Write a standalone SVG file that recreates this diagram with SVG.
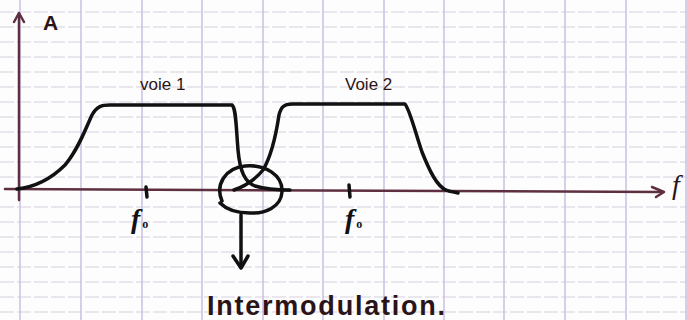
<svg xmlns="http://www.w3.org/2000/svg" width="687" height="320" viewBox="0 0 687 320">
  <defs>
    <style>
      .vgrid { stroke: #c8bfe2; stroke-width: 1.5; }
      .hgrid { stroke: #d6d0e0; stroke-width: 1.2; stroke-dasharray: 14 3; }
      .axis { stroke: #5e2f40; stroke-width: 2.5; fill: none; stroke-linecap: round; stroke-linejoin: round; }
      .ink { stroke: #111; stroke-width: 3.5; fill: none; stroke-linecap: round; stroke-linejoin: round; }
      .lbl { font-family: "Liberation Sans", Arial, sans-serif; fill: #2a1418; }
      .f0 { font-family: "Liberation Serif", "Times New Roman", serif; font-style: italic; font-weight: bold; fill: #111; }
    </style>
  </defs>
  <rect width="687" height="320" fill="#fdfdfd"/>
  <g id="grid">
    <g class="hgrid">
      <line x1="0" y1="12" x2="687" y2="12"/><line x1="0" y1="27" x2="687" y2="27"/>
      <line x1="0" y1="42" x2="687" y2="42"/><line x1="0" y1="57" x2="687" y2="57"/>
      <line x1="0" y1="72" x2="687" y2="72"/><line x1="0" y1="87" x2="687" y2="87"/>
      <line x1="0" y1="102" x2="687" y2="102"/><line x1="0" y1="117" x2="687" y2="117"/>
      <line x1="0" y1="132" x2="687" y2="132"/><line x1="0" y1="147" x2="687" y2="147"/>
      <line x1="0" y1="162" x2="687" y2="162"/><line x1="0" y1="177" x2="687" y2="177"/>
      <line x1="0" y1="207" x2="687" y2="207"/><line x1="0" y1="222" x2="687" y2="222"/>
      <line x1="0" y1="237" x2="687" y2="237"/><line x1="0" y1="252" x2="687" y2="252"/>
      <line x1="0" y1="267" x2="687" y2="267"/><line x1="0" y1="282" x2="687" y2="282"/>
      <line x1="0" y1="297" x2="687" y2="297"/><line x1="0" y1="312" x2="687" y2="312"/>
    </g>
    <g class="vgrid">
      <line x1="20" y1="0" x2="20" y2="320"/><line x1="81" y1="0" x2="81" y2="320"/>
      <line x1="142" y1="0" x2="142" y2="320"/><line x1="202" y1="0" x2="202" y2="320"/>
      <line x1="263" y1="0" x2="263" y2="320"/><line x1="323" y1="0" x2="323" y2="320"/>
      <line x1="384" y1="0" x2="384" y2="320"/><line x1="444" y1="0" x2="444" y2="320"/>
      <line x1="504" y1="0" x2="504" y2="320"/><line x1="565" y1="0" x2="565" y2="320"/>
      <line x1="626" y1="0" x2="626" y2="320"/><line x1="686" y1="0" x2="686" y2="320"/>
    </g>
  </g>
  <g id="axes">
    <path class="axis" d="M5,189 L661,192"/>
    <path class="axis" d="M652,187 L664,192 L656,197"/>
    <path class="axis" d="M19,200 L19,14"/>
    <path class="axis" d="M14,22 L19,13 L24,22"/>
    <text class="lbl" x="43" y="30" font-size="21" font-weight="bold">A</text>
    <text x="672" y="194" font-family="Liberation Serif, serif" font-style="italic" font-size="28" fill="#2a1418">f</text>
  </g>
  <g id="voie1">
    <path class="ink" d="M17,189 C35,187 50,180 65,165 C78,150 85,130 92,115 C97,106 102,105 110,105 L232,105 C236,108 236,125 238,150 C240,172 245,182 255,186 C265,189 280,190 290,190"/>
    <text class="lbl" x="140" y="90" font-size="17">voie 1</text>
  </g>
  <g id="voie2">
    <path class="ink" d="M234,190 C245,186 255,180 263,170 C272,155 276,135 279,115 C281,107 284,104 292,104 L405,104 C410,110 416,135 422,152 C430,172 437,186 446,190 C450,192 455,192 458,193"/>
    <text class="lbl" x="345" y="90" font-size="17">Voie 2</text>
  </g>
  <g id="ticks">
    <path class="ink" stroke-width="3" d="M146,187 L147,197"/>
    <path class="ink" stroke-width="3" d="M349,185 L350,197"/>
    <text class="f0" x="131" y="228" font-size="28">f<tspan font-size="12" font-style="normal" dx="2">o</tspan></text>
    <text class="f0" x="345" y="228" font-size="28">f<tspan font-size="12" font-style="normal" dx="2">o</tspan></text>
  </g>
  <g id="intermodulation">
    <path class="ink" stroke-width="3" d="M222,201 C215,185 225,168 245,166 C265,164 283,175 282,192 C281,207 265,214 250,213 C235,213 225,208 220,203"/>
    <path class="ink" stroke-width="3" d="M241,215 L241,267"/>
    <path class="ink" stroke-width="3" d="M233,256 L241,268 L248,256"/>
    <text class="lbl" x="207" y="315" font-size="27" font-weight="bold" fill="#111" textLength="238" lengthAdjust="spacing">Intermodulation.</text>
  </g>
</svg>
